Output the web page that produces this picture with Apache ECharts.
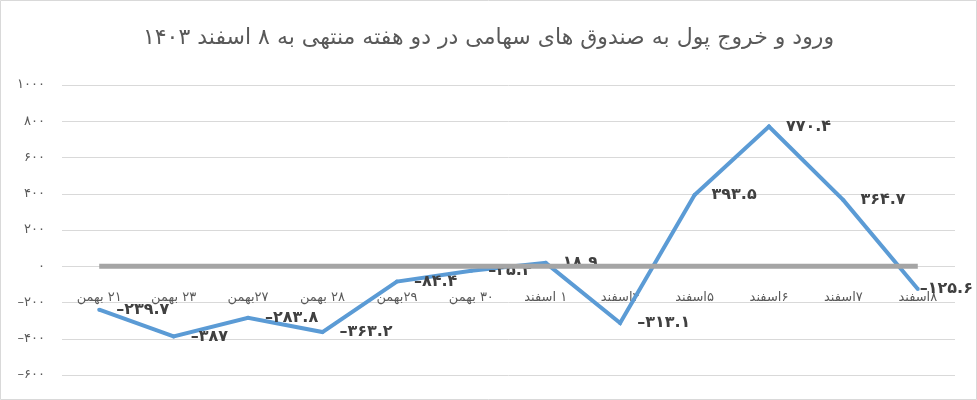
<!DOCTYPE html>
<html>
<head>
<meta charset="utf-8">
<script src="https://cdn.jsdelivr.net/npm/echarts@6/dist/echarts.min.js"></script>
<style>
html,body{margin:0;padding:0;background:#fff;}
#chart{width:977px;height:400px;}
</style>
</head>
<body>
<div id="chart"></div>
<script>
const titleText = 'ورود و خروج پول به صندوق های سهامی در دو هفته منتهی به ۸ اسفند ۱۴۰۳';
const categories = ['۲۱ بهمن','۲۳ بهمن','۲۷بهمن','۲۸ بهمن','۲۹بهمن','۳۰ بهمن','۱ اسفند','۴اسفند','۵اسفند','۶اسفند','۷اسفند','۸اسفند'];
const flowValues = [-239.7,-387,-283.8,-363.2,-84.4,-25.4,18.9,-313.1,393.5,770.4,364.7,-125.6];
const zeroValues = [0,0,0,0,0,0,0,0,0,0,0,0];
const yMin = -600, yMax = 1000, yStep = 200;

const FA = '۰۱۲۳۴۵۶۷۸۹';
function toFa(v){
  return String(v).replace(/[0-9]/g, d => FA[+d]).replace('-', '–');
}
const RLM = '\u200F';
const FONT = 'DejaVu Sans';

const GRID = {left:62,right:22,top:85,bottom:25};
const plotHeight = 400 - GRID.top - GRID.bottom;
// put the category axis on the zero line of the value axis
const zeroOffset = -((0 - yMin) / (yMax - yMin)) * plotHeight;

const flowData = flowValues.map((v, i) => {
  const item = {value: v};
  if (i === flowValues.length - 1) item.label = {distance: 0};
  return item;
});

const chart = echarts.init(document.getElementById('chart'));
chart.setOption({
  animation:false,
  backgroundColor:'#fff',
  title:{
    text:titleText,
    left:'center',
    top:22,
    textStyle:{fontFamily:FONT,fontSize:22,fontWeight:'normal',color:'#595959'}
  },
  graphic:[{
    type:'rect',
    shape:{x:0.5,y:0.5,width:976,height:399},
    style:{fill:'none',stroke:'#d9d9d9',lineWidth:1},
    silent:true
  }],
  grid:Object.assign({containLabel:false,outerBoundsMode:'none'}, GRID),
  xAxis:{
    type:'category',
    data:categories,
    boundaryGap:true,
    position:'bottom',
    offset:zeroOffset,
    axisLine:{show:false,onZero:false},
    axisTick:{show:false},
    axisLabel:{
      margin:25,
      interval:0,
      fontFamily:FONT,fontSize:13,color:'#595959',
      formatter:v => RLM + v
    },
    splitLine:{show:false}
  },
  yAxis:{
    type:'value',
    min:yMin,max:yMax,interval:yStep,
    axisLine:{show:false},
    axisTick:{show:false},
    axisLabel:{
      margin:17,
      fontFamily:FONT,fontSize:13,color:'#595959',
      formatter:v => toFa(v)
    },
    splitLine:{lineStyle:{color:'#d9d9d9',width:1}}
  },
  series:[
    {
      type:'line',
      data:flowData,
      symbol:'circle',
      symbolSize:4,
      showSymbol:true,
      itemStyle:{color:'#5b9bd5'},
      lineStyle:{color:'#5b9bd5',width:4,join:'miter'},
      label:{
        show:true,
        position:'right',
        distance:15,
        fontFamily:FONT,fontSize:16,fontWeight:'bold',color:'#404040',
        formatter:p => toFa(p.value)
      },
      z:2
    },
    {
      type:'line',
      data:zeroValues,
      symbol:'none',
      lineStyle:{color:'#a5a5a5',width:5},
      z:3
    }
  ]
});
</script>
</body>
</html>
